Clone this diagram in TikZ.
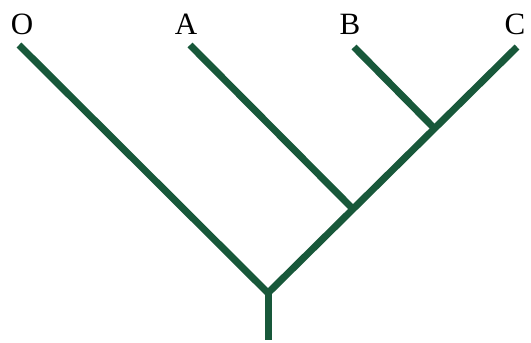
\documentclass[tikz,border=0pt]{standalone}
\usepackage{fontspec}
\setmainfont{Liberation Serif}
\definecolor{treegreen}{RGB}{24,88,58}
\begin{document}
\begin{tikzpicture}[x=1pt, y=-1pt,
  branch/.style={line width=7pt, treegreen},
  taxon/.style={font=\fontsize{31}{34}\selectfont, inner sep=0pt}]

  \useasboundingbox (0,0) rectangle (531,343);

  % --- 1. taxon labels ---
  \node[taxon] (o) at (22,24) {O};
  \node[taxon] (a) at (186,24) {A};
  \node[taxon] (b) at (350,24) {B};
  \node[taxon] (c) at (515,24) {C};

  % --- 2. branch tips and nodes ---
  \coordinate (tipO) at (19,45);
  \coordinate (tipA) at (190,45);
  \coordinate (tipB) at (354,47);
  \coordinate (tipC) at (517,47);
  \coordinate (nodeBC) at (433,127);
  \coordinate (nodeABC) at (352,208);
  \coordinate (root) at (268,293);
  \coordinate (stem) at (268,340);

  % --- 3. branches ---
  \draw[branch] (root) -- (stem);
  \draw[branch] (root) -- (tipO);
  \draw[branch] (root) -- (tipC);
  \draw[branch] (nodeABC) -- (tipA);
  \draw[branch] (nodeBC) -- (tipB);

\end{tikzpicture}
\end{document}
